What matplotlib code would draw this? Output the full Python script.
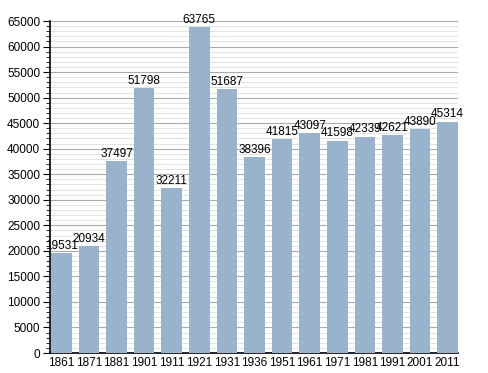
import matplotlib
matplotlib.use('Agg')
import matplotlib.pyplot as plt
from matplotlib.ticker import MultipleLocator

years = ['1861', '1871', '1881', '1901', '1911', '1921', '1931', '1936',
         '1951', '1961', '1971', '1981', '1991', '2001', '2011']
population = [19531, 20934, 37497, 51798, 32211, 63765, 51687, 38396,
              41815, 43097, 41598, 42339, 42621, 43890, 45314]

plt.rcParams['font.family'] = ['Liberation Sans', 'DejaVu Sans']

fig = plt.figure(figsize=(4.88, 3.73), dpi=100)
ax = fig.add_axes([50 / 488, 20 / 373, 408 / 488, 332 / 373])

x = range(len(years))
ax.bar(x, population, width=0.75, color='#99b3cc', zorder=3)

for i, v in enumerate(population):
    ax.text(i, v + 250, str(v), ha='center', va='bottom', fontsize=8.5, zorder=4)

ax.set_xlim(-0.41, len(years) - 1 + 0.375)
ax.set_ylim(0, 65000)
ax.set_xticks(list(x))
ax.set_xticklabels(years)
ax.yaxis.set_major_locator(MultipleLocator(5000))
ax.yaxis.set_minor_locator(MultipleLocator(1000))

ax.grid(axis='y', which='major', color='#aaaaaa', linewidth=0.8, zorder=0)
ax.grid(axis='y', which='minor', color='#dddddd', linewidth=0.6, zorder=0)

for s in ['top', 'right']:
    ax.spines[s].set_visible(False)
ax.spines['left'].set_linewidth(1.2)
ax.spines['bottom'].set_linewidth(1.2)

ax.tick_params(axis='x', length=0, labelsize=8.5, pad=3)
ax.tick_params(axis='y', which='major', length=5, labelsize=8.5, pad=2)
ax.tick_params(axis='y', which='minor', length=3)

fig.savefig('out.png', dpi=100)
